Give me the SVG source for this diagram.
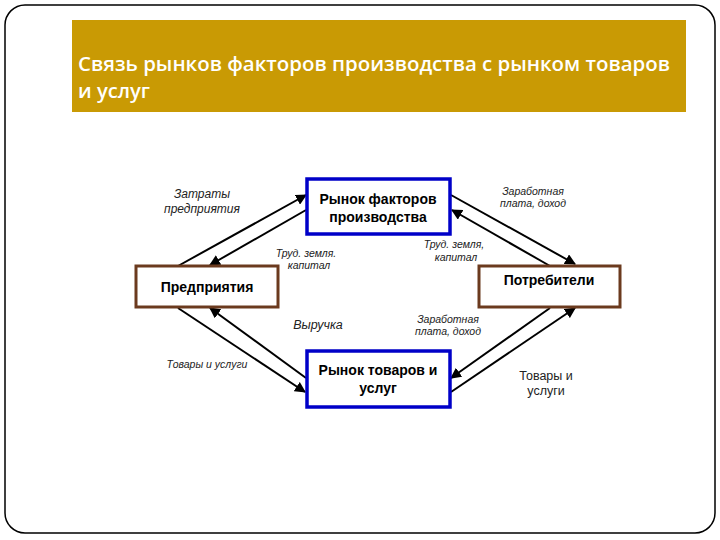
<svg xmlns="http://www.w3.org/2000/svg" width="720" height="540" viewBox="0 0 720 540">
<defs>
<marker id="ah" viewBox="0 0 10 10" refX="9" refY="5" markerWidth="5.5" markerHeight="5.5" orient="auto" markerUnits="strokeWidth">
<path d="M0,0 L10,5 L0,10 z" fill="#000"/>
</marker>
<style>
.title{font-family:"Open Sans","Noto Sans",sans-serif;font-size:20px;font-weight:600;fill:#fff}
.bx{font-family:"Liberation Sans",Arial,sans-serif;font-size:14px;font-weight:bold;fill:#000;text-anchor:middle}
.lb{font-family:"Liberation Sans",Arial,sans-serif;font-size:10.5px;font-style:italic;fill:#222;text-anchor:middle}
.lbn{font-family:"Liberation Sans",Arial,sans-serif;font-size:12.5px;fill:#222;text-anchor:middle}
.blue{fill:#fff;stroke:#0000c8;stroke-width:3.5}
.brown{fill:#fff;stroke:#6b3a1e;stroke-width:3}
.ar{stroke:#000;stroke-width:2;fill:none;marker-end:url(#ah)}
</style>
</defs>
<rect x="5" y="5" width="710" height="528" rx="20" ry="20" fill="#fff" stroke="#000" stroke-width="1.5"/>
<g id="title">
<rect x="72" y="20" width="614" height="92" fill="#c99a04"/>
<text class="title" x="78" y="71" textLength="592" lengthAdjust="spacingAndGlyphs">Связь рынков факторов производства с рынком товаров</text>
<text class="title" x="78" y="98" textLength="72" lengthAdjust="spacingAndGlyphs">и услуг</text>
</g>
<g id="connectors">
<line class="ar" x1="178" y1="266" x2="306" y2="195"/>
<line class="ar" x1="306" y1="210" x2="210" y2="265"/>
<line class="ar" x1="451" y1="195" x2="575" y2="264"/>
<line class="ar" x1="550" y1="266" x2="452" y2="210"/>
<line class="ar" x1="178" y1="308" x2="305" y2="392"/>
<line class="ar" x1="306" y1="378" x2="210" y2="308"/>
<line class="ar" x1="550" y1="308" x2="451" y2="378"/>
<line class="ar" x1="451" y1="392" x2="575" y2="308"/>
</g>
<g id="factors">
<rect class="blue" x="307" y="179" width="143" height="55"/>
<text class="bx" x="378" y="204">Рынок факторов</text>
<text class="bx" x="378" y="222">производства</text>
</g>
<g id="firms">
<rect class="brown" x="136" y="266" width="142" height="41"/>
<text class="bx" x="207" y="292">Предприятия</text>
</g>
<g id="consumers">
<rect class="brown" x="479" y="266" width="141" height="41"/>
<text class="bx" x="549" y="285">Потребители</text>
</g>
<g id="goods">
<rect class="blue" x="307" y="351" width="143" height="56"/>
<text class="bx" x="378" y="375">Рынок товаров и</text>
<text class="bx" x="378" y="393">услуг</text>
</g>
<g id="labels">
<text class="lb" x="202" y="198" style="font-size:12px">Затраты</text>
<text class="lb" x="202" y="213" style="font-size:12px">предприятия</text>
<text class="lb" x="306" y="257">Труд. земля.</text>
<text class="lb" x="309" y="269">капитал</text>
<text class="lb" x="454" y="248">Труд. земля,</text>
<text class="lb" x="456" y="261">капитал</text>
<text class="lb" x="533" y="195">Заработная</text>
<text class="lb" x="533" y="207">плата, доход</text>
<text class="lb" x="318" y="329" style="font-size:12.5px">Выручка</text>
<text class="lb" x="448" y="323">Заработная</text>
<text class="lb" x="448" y="335">плата, доход</text>
<text class="lb" x="207" y="368">Товары и услуги</text>
<text class="lbn" x="546" y="380">Товары и</text>
<text class="lbn" x="546" y="395">услуги</text>
</g>
</svg>
